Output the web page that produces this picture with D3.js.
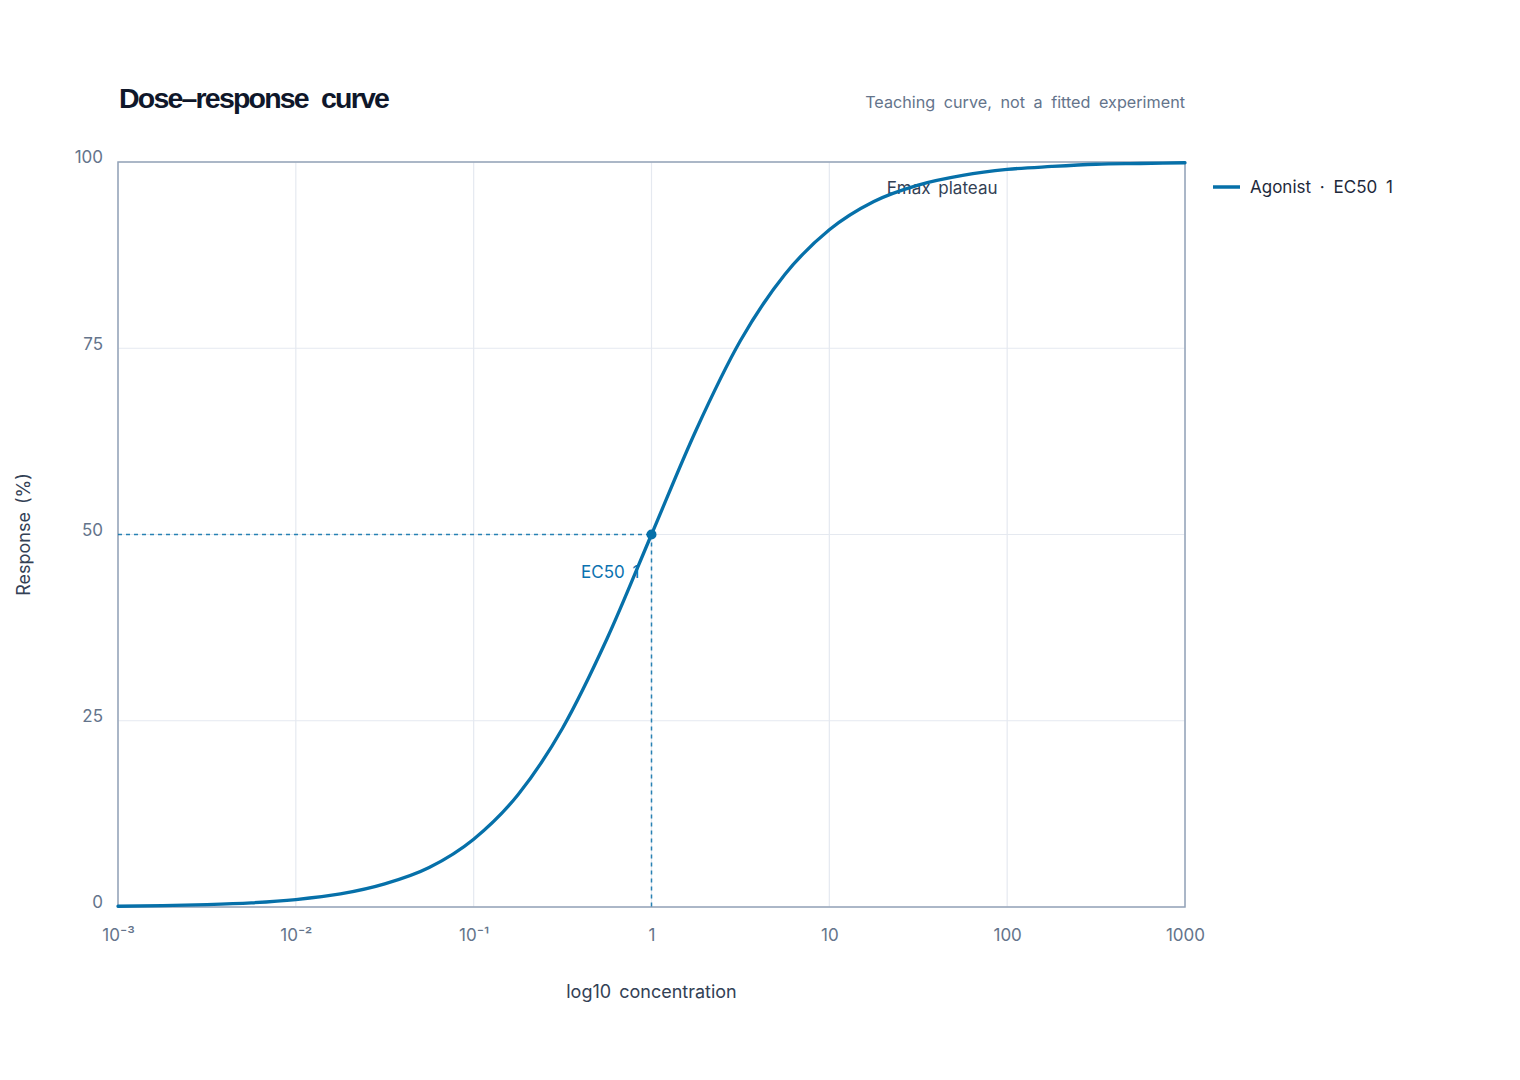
<!DOCTYPE html>
<html>
<head>
<meta charset="utf-8">
<script src="https://cdn.jsdelivr.net/npm/d3@7"></script>
<style>
  html, body { margin: 0; padding: 0; background: #ffffff; }
  svg { display: block; font-family: Inter, "Noto Sans", sans-serif; word-spacing: 3px; }
</style>
</head>
<body>
<svg id="chart" width="1520" height="1080"></svg>
<script>
// ---- data ----
const concentrations = [0.001, 0.00178, 0.00316, 0.00562, 0.01, 0.0178, 0.0316, 0.0562, 0.1, 0.178, 0.316, 0.562,
  1, 1.78, 3.16, 5.62, 10, 17.8, 31.6, 56.2, 100, 178, 316, 562, 1000];
const responses = [0.1, 0.18, 0.32, 0.56, 1.0, 1.75, 3.1, 5.3, 9.1, 15.1, 24.0, 36.0,
  50, 64.0, 76.0, 84.9, 90.9, 94.7, 96.9, 98.2, 99.0, 99.4, 99.7, 99.8, 99.9];
const xTickValues = [0.001, 0.01, 0.1, 1, 10, 100, 1000];
const xTickLabels = ["10\u207B\u00B3", "10\u207B\u00B2", "10\u207B\u00B9", "1", "10", "100", "1000"];
const yTickValues = [0, 25, 50, 75, 100];
const ec50 = { conc: 1, response: 50, label: "EC50  1" };
const seriesName = "Agonist  \u00B7  EC50  1";
const titleText = "Dose\u2013response  curve";
const subtitleText = "Teaching  curve,  not  a  fitted  experiment";
const plateauLabel = { conc: 21, response: 96, text: "Emax  plateau" };

// ---- layout ----
const svg = d3.select("#chart");
const margin = { left: 118, right: 1185, top: 162, bottom: 907 };
const x = d3.scaleLog().domain([0.001, 1000]).range([margin.left, margin.right]);
const y = d3.scaleLinear().domain([0, 100]).range([margin.bottom, margin.top]);
const blue = "#0670a9";

// grid
const grid = svg.append("g");
grid.selectAll("line.vx").data(xTickValues).join("line")
  .attr("x1", d => x(d)).attr("x2", d => x(d))
  .attr("y1", margin.top).attr("y2", margin.bottom)
  .attr("stroke", "#e5e9f0").attr("stroke-width", 1.2);
grid.selectAll("line.hy").data(yTickValues).join("line")
  .attr("x1", margin.left).attr("x2", margin.right)
  .attr("y1", d => y(d)).attr("y2", d => y(d))
  .attr("stroke", "#e5e9f0").attr("stroke-width", 1.2);

// frame
svg.append("rect")
  .attr("x", margin.left).attr("y", margin.top)
  .attr("width", margin.right - margin.left).attr("height", margin.bottom - margin.top)
  .attr("fill", "none").attr("stroke", "#94a3b8").attr("stroke-width", 1.5);

// axes via d3
const xAxis = d3.axisBottom(x).tickValues(xTickValues)
  .tickFormat((d, i) => xTickLabels[i]).tickSize(0).tickPadding(22);
const gx = svg.append("g").attr("transform", `translate(0,${margin.bottom})`).call(xAxis);
gx.select(".domain").remove();
gx.selectAll("text").attr("fill", "#64748b").attr("font-size", 17)
  .attr("font-family", "Inter, 'Noto Sans', sans-serif");

const yAxis = d3.axisLeft(y).tickValues(yTickValues).tickSize(0).tickPadding(15);
const gy = svg.append("g").attr("transform", `translate(${margin.left},0)`).call(yAxis);
gy.select(".domain").remove();
gy.selectAll("text").attr("fill", "#64748b").attr("font-size", 17)
  .attr("dy", "0.05em")
  .attr("font-family", "Inter, 'Noto Sans', sans-serif");

// EC50 guides
svg.append("line")
  .attr("x1", x(0.001)).attr("x2", x(ec50.conc))
  .attr("y1", y(ec50.response)).attr("y2", y(ec50.response))
  .attr("stroke", blue).attr("stroke-width", 1.5).attr("stroke-dasharray", "4,4").attr("opacity", 0.85);
svg.append("line")
  .attr("x1", x(ec50.conc)).attr("x2", x(ec50.conc))
  .attr("y1", y(ec50.response)).attr("y2", y(0))
  .attr("stroke", blue).attr("stroke-width", 1.5).attr("stroke-dasharray", "4,4").attr("opacity", 0.85);

// plateau label
svg.append("text")
  .attr("x", x(plateauLabel.conc)).attr("y", y(plateauLabel.response) + 2)
  .attr("fill", "#334155").attr("font-size", 17).text(plateauLabel.text);

// curve
const line = d3.line().x((d, i) => x(concentrations[i])).y(d => y(d)).curve(d3.curveMonotoneX);
svg.append("path").datum(responses)
  .attr("d", line).attr("fill", "none").attr("stroke", blue).attr("stroke-width", 3.3)
  .attr("stroke-linejoin", "round").attr("stroke-linecap", "round");

// EC50 point + label
svg.append("circle").attr("cx", x(ec50.conc)).attr("cy", y(ec50.response)).attr("r", 5).attr("fill", blue);
svg.append("text")
  .attr("x", x(ec50.conc) - 12).attr("y", y(ec50.response) + 43)
  .attr("text-anchor", "end").attr("fill", "#0b72b0").attr("font-size", 17).text(ec50.label);

// title & subtitle
svg.append("text").attr("x", 119).attr("y", 108)
  .attr("font-family", "'Liberation Sans', Arial, sans-serif")
  .attr("font-size", 28.5).attr("font-weight", 700).attr("fill", "#0f172a")
  .attr("letter-spacing", "-1.8px").attr("word-spacing", "7px").text(titleText);
svg.append("text").attr("x", margin.right).attr("y", 108)
  .attr("text-anchor", "end").attr("font-size", 16.2).attr("word-spacing", "4px")
  .attr("fill", "#64748b").text(subtitleText);

// legend
svg.append("line").attr("x1", 1213).attr("x2", 1240).attr("y1", 187).attr("y2", 187)
  .attr("stroke", blue).attr("stroke-width", 3.5);
svg.append("text").attr("x", 1250).attr("y", 193).attr("word-spacing", "4px")
  .attr("font-size", 17).attr("fill", "#1e293b").text(seriesName);

// axis titles
svg.append("text").attr("x", (margin.left + margin.right) / 2).attr("y", 998)
  .attr("text-anchor", "middle").attr("font-size", 18).attr("fill", "#334155").text("log10  concentration");
svg.append("text").attr("transform", `translate(30,${(margin.top + margin.bottom) / 2}) rotate(-90)`)
  .attr("text-anchor", "middle").attr("font-size", 18).attr("fill", "#334155").text("Response  (%)");
</script>
</body>
</html>
